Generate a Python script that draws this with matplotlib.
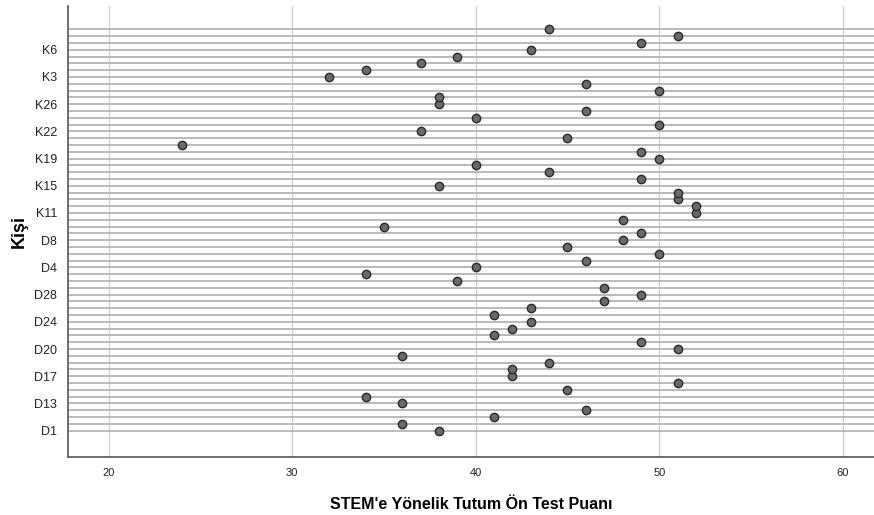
import matplotlib
matplotlib.use("Agg")
import matplotlib.pyplot as plt

plt.rcParams['font.family'] = ['Liberation Sans', 'DejaVu Sans']

# Kişi kodları (alfabetik sıralı, SPSS'teki gibi)
kisiler = (["D1", "D10", "D11", "D12", "D13", "D14", "D15", "D16", "D17", "D18", "D19",
            "D2", "D20", "D21", "D22", "D23", "D24", "D25", "D26", "D27", "D28", "D29",
            "D3", "D30", "D4", "D5", "D6", "D7", "D8", "D9"] +
           ["K1", "K10", "K11", "K12", "K13", "K14", "K15", "K16", "K17", "K18", "K19",
            "K2", "K20", "K21", "K22", "K23", "K24", "K25", "K26", "K27", "K28", "K29",
            "K3", "K30", "K4", "K5", "K6", "K7", "K8", "K9"])

puanlar = [38, 36, 41, 46, 36, 34, 45, 51, 42, 42, 44,
           36, 51, 49, 41, 42, 43, 41, 43, 47, 49, 47,
           39, 34, 40, 46, 50, 45, 48, 49,
           35, 48, 52, 52, 51, 51, 38, 49, 44, 40, 50,
           49, 24, 45, 37, 50, 40, 46, 38, 38, 50, 46,
           32, 34, 37, 39, 43, 49, 51, 44]

x_ticks = [20, 30, 40, 50, 60]

fig = plt.figure(figsize=(8.74, 5.15), dpi=100)
ax = fig.add_axes([0.078, 0.1126, 0.922, 0.8754])

pos = list(range(len(kisiler)))

# her kişi için yatay çizgi
for p in pos:
    ax.axhline(p, color="#b4b4b4", linewidth=1.3, zorder=1)
for t in x_ticks:
    ax.axvline(t, color="#d2d2d2", linewidth=1.0, zorder=0.5)

ax.scatter(puanlar, pos, s=36, facecolor="#6a6a6a", edgecolor="#2a2a2a",
           linewidth=1.0, zorder=3)

ax.set_xlim(17.8, 61.7)
ax.set_ylim(-3.87, 62.4)

etiketler = [k if i % 4 == 0 else "" for i, k in enumerate(kisiler)]
ax.set_yticks(pos)
ax.set_yticklabels(etiketler, fontsize=9, color="#222222")
ax.set_xticks(x_ticks)
ax.set_xticklabels([str(t) for t in x_ticks], fontsize=8, color="#222222")
ax.tick_params(axis="both", length=0)
ax.tick_params(axis="y", pad=8)
ax.tick_params(axis="x", pad=8)

for s in ["top", "right"]:
    ax.spines[s].set_visible(False)
for s in ["left", "bottom"]:
    ax.spines[s].set_color("#555555")
    ax.spines[s].set_linewidth(1.2)

ax.set_xlabel("STEM'e Yönelik Tutum Ön Test Puanı", fontsize=11.5, fontweight="bold")
ax.xaxis.set_label_coords(0.5, -0.088)
ax.set_ylabel("Kişi", fontsize=13, fontweight="bold")
ax.yaxis.set_label_coords(-0.05, 0.5)

fig.savefig("out.png", dpi=100)
